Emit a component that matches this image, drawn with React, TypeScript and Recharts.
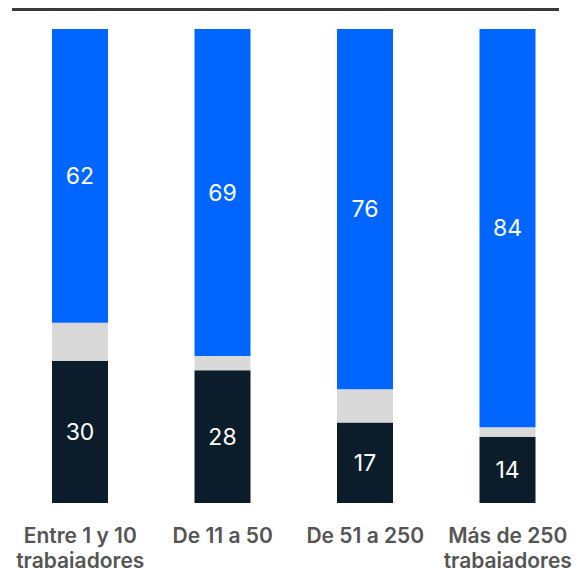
import { BarChart, Bar, XAxis, YAxis, LabelList } from "recharts";

const categories = ["Entre 1 y 10 trabajadores", "De 11 a 50", "De 51 a 250", "Más de 250 trabajadores"];
const tickLines = [["Entre 1 y 10", "trabajadores"], ["De 11 a 50"], ["De 51 a 250"], ["Más de 250", "trabajadores"]];
const darkValues = [30, 28, 17, 14];
const grayValues = [8, 3, 7, 2];
const blueValues = [62, 69, 76, 84];

const data = categories.map((name, i) => ({
  name,
  dark: darkValues[i],
  gray: grayValues[i],
  blue: blueValues[i],
}));

const FONT = "Inter, 'Noto Sans', sans-serif";

function Tick(props: any) {
  const { x, y, index } = props;
  const lines = tickLines[index] || [];
  return (
    <g transform={`translate(${x},${y})`}>
      {lines.map((l, i) => (
        <text
          key={i}
          x={0}
          y={32 + i * 25}
          textAnchor="middle"
          fill="#555555"
          fontSize={21}
          fontWeight={600}
          fontFamily={FONT}
        >
          {l}
        </text>
      ))}
    </g>
  );
}

export default function App() {
  return (
    <div style={{ position: "absolute", left: 0, top: 0, width: 580, height: 568, background: "#fff" }}>
      <div style={{ position: "absolute", left: 12, top: 8, width: 547, height: 2.5, background: "#3a3a3a" }} />
      <BarChart
        width={580}
        height={568}
        data={data}
        margin={{ top: 9, right: 1, bottom: 0, left: 9 }}
        barSize={56}
      >
        <XAxis dataKey="name" axisLine={false} tickLine={false} height={65} interval={0} tick={<Tick />} />
        <YAxis hide domain={[0, 104.2]} />
        <Bar dataKey="dark" stackId="a" fill="#0b1d2b" isAnimationActive={false}>
          <LabelList dataKey="dark" position="center" fill="#ffffff" fontSize={23} fontFamily={FONT} />
        </Bar>
        <Bar dataKey="gray" stackId="a" fill="#d9d9d9" isAnimationActive={false} />
        <Bar dataKey="blue" stackId="a" fill="#0066ff" isAnimationActive={false}>
          <LabelList dataKey="blue" position="center" fill="#ffffff" fontSize={23} fontFamily={FONT} />
        </Bar>
      </BarChart>
    </div>
  );
}
